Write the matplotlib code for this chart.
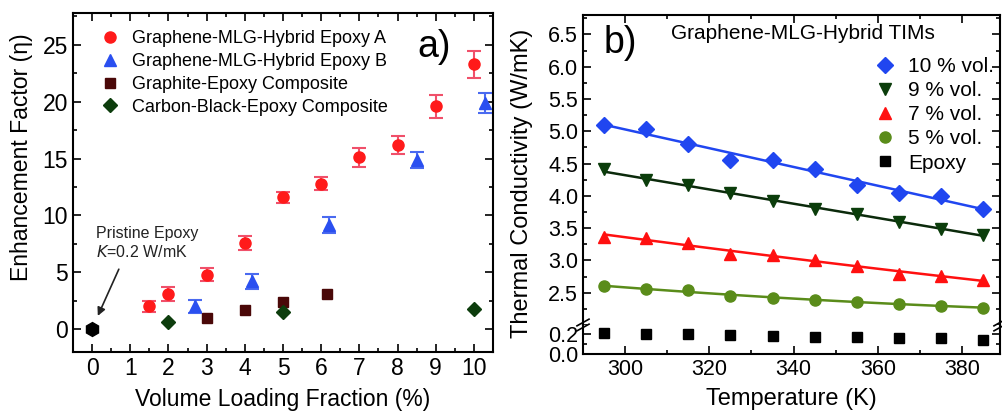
import numpy as np
import matplotlib
matplotlib.use("Agg")
import matplotlib.pyplot as plt
from matplotlib.ticker import MultipleLocator, FormatStrFormatter
from matplotlib.lines import Line2D

plt.rcParams['font.family'] = ['Liberation Sans', 'DejaVu Sans']

# ---------------- data: panel a ----------------
a_x = [1.5, 2, 3, 4, 5, 6, 7, 8, 9, 10]
a_y = [2.0, 3.1, 4.8, 7.6, 11.6, 12.8, 15.1, 16.2, 19.6, 23.3]
a_err = [0.5, 0.6, 0.6, 0.6, 0.5, 0.6, 0.8, 0.8, 1.0, 1.2]

b_x = [2.7, 4.2, 6.2, 8.5, 10.3]
b_y = [2.0, 4.2, 9.2, 14.9, 19.9]
b_err = [0.6, 0.7, 0.7, 0.7, 0.9]

gr_x = [3, 4, 5, 6.15]
gr_y = [1.0, 1.7, 2.4, 3.1]

cb_x = [2, 5, 10]
cb_y = [0.6, 1.5, 1.8]

pristine_x = [0]
pristine_y = [0]

# ---------------- data: panel b ----------------
temps = [295, 305, 315, 325, 335, 345, 355, 365, 375, 385]
k10 = [5.10, 5.03, 4.80, 4.56, 4.55, 4.41, 4.17, 4.05, 4.00, 3.80]
k9 = [4.41, 4.24, 4.16, 4.04, 3.92, 3.80, 3.72, 3.60, 3.49, 3.40]
k7 = [3.37, 3.35, 3.27, 3.10, 3.08, 3.01, 2.91, 2.79, 2.76, 2.70]
k5 = [2.60, 2.56, 2.54, 2.45, 2.42, 2.39, 2.36, 2.33, 2.29, 2.27]
kep = [0.21, 0.20, 0.20, 0.19, 0.18, 0.17, 0.17, 0.16, 0.16, 0.14]

W, H = 1003, 417
fig = plt.figure(figsize=(W / 100, H / 100), dpi=100)


def box(x0, y0, x1, y1):
    return [x0 / W, 1 - y1 / H, (x1 - x0) / W, (y1 - y0) / H]


def style_ticks(ax, size):
    ax.tick_params(which='both', direction='in', top=True, right=True, width=1.2)
    ax.tick_params(which='major', length=6, labelsize=size)
    ax.tick_params(which='minor', length=3)
    for s in ax.spines.values():
        s.set_linewidth(1.5)


# ---------------- panel a ----------------
RED, BLUE, MAROON, DGREEN = '#ff1a1a', '#2a4ff0', '#4a0808', '#0d3d0d'
axa = fig.add_axes(box(73, 13, 493, 352))
axa.errorbar(a_x, a_y, yerr=a_err, fmt='o', color=RED, ms=8, ecolor='#f0506a',
             elinewidth=1.5, capsize=5, capthick=1.5, zorder=3)
axa.errorbar(b_x, b_y, yerr=b_err, fmt='^', color=BLUE, ms=8.5, ecolor='#4a6af0',
             elinewidth=1.5, capsize=5, capthick=1.5, zorder=3)
axa.plot(gr_x, gr_y, 's', color=MAROON, ms=7, zorder=3)
axa.plot(cb_x, cb_y, 'D', color=DGREEN, ms=7.5, zorder=3)
axa.plot(pristine_x, pristine_y, 'h', color='black', ms=10, zorder=3)

axa.set_xlim(-0.5, 10.5)
axa.set_ylim(-2, 27.8)
axa.xaxis.set_major_locator(MultipleLocator(1))
axa.xaxis.set_minor_locator(MultipleLocator(0.5))
axa.yaxis.set_major_locator(MultipleLocator(5))
axa.yaxis.set_minor_locator(MultipleLocator(2.5))
style_ticks(axa, 16.5)
axa.set_xlabel('Volume Loading Fraction (%)', fontsize=16.5, labelpad=6)
fig.text(22 / W, 1 - 157 / H, 'Enhancement Factor (\u03b7)', rotation=90, fontsize=16.6,
         ha='center', va='center')

leg_handles = [
    Line2D([], [], marker='o', color=RED, ls='none', ms=8),
    Line2D([], [], marker='^', color=BLUE, ls='none', ms=8.5),
    Line2D([], [], marker='s', color=MAROON, ls='none', ms=7),
    Line2D([], [], marker='D', color=DGREEN, ls='none', ms=7),
]
leg_labels = ['Graphene-MLG-Hybrid Epoxy A', 'Graphene-MLG-Hybrid Epoxy B',
              'Graphite-Epoxy Composite', 'Carbon-Black-Epoxy Composite']
axa.legend(leg_handles, leg_labels, loc='upper left', bbox_to_anchor=(0.045, 0.97), frameon=False,
           fontsize=13, handletextpad=0.6, labelspacing=0.32, borderaxespad=0.0,
           handlelength=1.2)

axa.text(0.82, 0.9, 'a)', transform=axa.transAxes, fontsize=27, ha='left', va='center')

axa.annotate('', xy=(0.12, 0.95), xytext=(0.73, 5.5),
             arrowprops=dict(arrowstyle='-|>', color='#222222', lw=1.2, mutation_scale=12))
axa.text(0.1, 8.45, 'Pristine Epoxy', fontsize=11.5, ha='left', va='center', color='#222222')
axa.text(0.1, 6.8, '$\\mathit{K}$=0.2 W/mK', fontsize=11.5, ha='left', va='center', color='#222222')

# ---------------- panel b (broken axis) ----------------
axt = fig.add_axes(box(583, 15, 1000, 325))
axb = fig.add_axes(box(583, 325, 1000, 354), sharex=axt)

specs = [
    (k10, 'D', '#2046f0', '#2046f0', 8, '10 % vol.', 1),
    (k9, 'v', '#0b3d0b', '#0b2a0b', 8.5, '9 % vol.', 1),
    (k7, '^', '#ff1010', '#ff1010', 8.5, '7 % vol.', 2),
    (k5, 'o', '#5a8c1a', '#5a8c1a', 8, '5 % vol.', 2),
]
T = np.array(temps, dtype=float)
tt = np.linspace(T.min(), T.max(), 100)
for ys, m, c, lc, ms, lab, deg in specs:
    p = np.polyfit(T, ys, deg)
    axt.plot(tt, np.polyval(p, tt), '-', color=lc, lw=1.8, zorder=2)
    axt.plot(T, ys, m, color=c, ms=ms, ls='none', label=lab, zorder=3)
axb.plot(T, kep, 's', color='black', ms=7, ls='none', label='Epoxy', zorder=3)

axt.set_xlim(290, 389)
axt.set_ylim(2.0, 6.8)
axb.set_ylim(0.0, 0.29)
axt.set_yticks([2.5, 3.0, 3.5, 4.0, 4.5, 5.0, 5.5, 6.0, 6.5])
axt.yaxis.set_minor_locator(MultipleLocator(0.25))
axb.set_yticks([0.0, 0.2])
axb.yaxis.set_minor_locator(MultipleLocator(0.1))
axb.xaxis.set_major_locator(MultipleLocator(20))
axb.xaxis.set_minor_locator(MultipleLocator(10))
style_ticks(axt, 15.5)
style_ticks(axb, 15.5)
axt.spines['bottom'].set_visible(False)
axb.spines['top'].set_visible(False)
axt.tick_params(which='both', bottom=False, labelbottom=False)
axb.tick_params(which='both', top=False)
axt.yaxis.set_major_formatter(FormatStrFormatter('%.1f'))
axb.yaxis.set_major_formatter(FormatStrFormatter('%.1f'))
axb.set_xlabel('Temperature (K)', fontsize=17, labelpad=6)

# break marks
for xpix in (583, 1000):
    for dy in (-0.006, 0.006):
        fig.add_artist(Line2D([xpix / W - 0.006, xpix / W + 0.006],
                              [1 - 325 / H + dy - 0.008, 1 - 325 / H + dy + 0.008],
                              color='black', lw=1.2, transform=fig.transFigure))

h1, l1 = axt.get_legend_handles_labels()
h2, l2 = axb.get_legend_handles_labels()
axt.legend(h1 + h2, l1 + l2, loc='upper right', bbox_to_anchor=(1.006, 0.892), frameon=False,
           fontsize=15, handletextpad=0.5, labelspacing=0.25, borderaxespad=0.0, handlelength=1.2)
axt.text(0.05, 0.91, 'b)', transform=axt.transAxes, fontsize=27, ha='left', va='center')
axt.text(0.21, 0.94, 'Graphene-MLG-Hybrid TIMs', transform=axt.transAxes, fontsize=15,
         ha='left', va='center')

fig.text(522 / W, 1 - 183 / H, 'Thermal Conductivity (W/mK)', rotation=90, fontsize=17,
         ha='center', va='center')

fig.savefig('out.png', dpi=100)
